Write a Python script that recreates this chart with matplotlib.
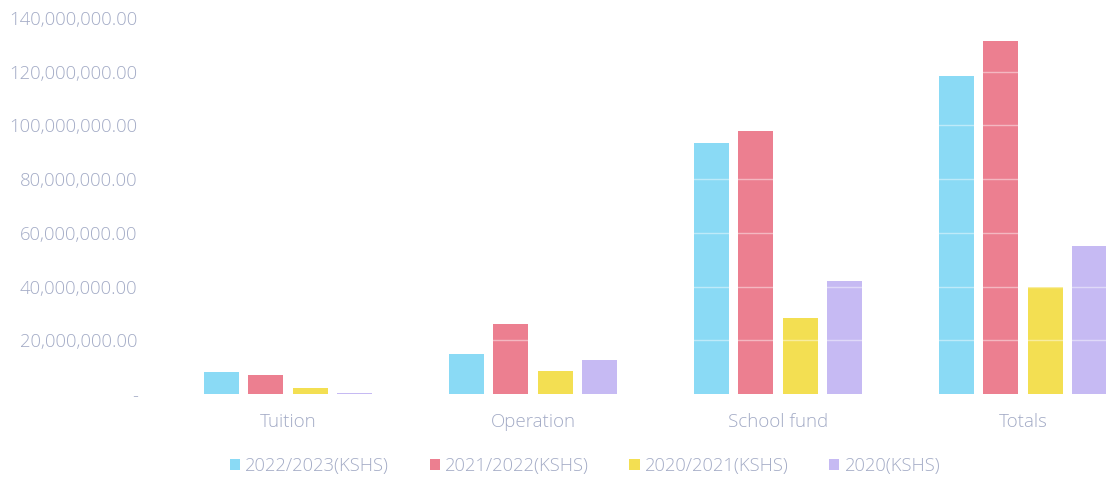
import matplotlib
matplotlib.use("Agg")
import matplotlib.pyplot as plt
import numpy as np
from matplotlib.ticker import FuncFormatter

categories = ["Tuition", "Operation", "School fund", "Totals"]
series_names = ["2022/2023(KSHS)", "2021/2022(KSHS)", "2020/2021(KSHS)", "2020(KSHS)"]
v_2022_2023 = [8.2e6, 14.9e6, 93.4e6, 118.4e6]
v_2021_2022 = [7.1e6, 26.0e6, 97.9e6, 131.4e6]
v_2020_2021 = [2.2e6, 8.6e6, 28.3e6, 39.8e6]
v_2020 = [0.5e6, 12.7e6, 42.0e6, 55.0e6]
yticks = [0, 20e6, 40e6, 60e6, 80e6, 100e6, 120e6, 140e6]

series = [v_2022_2023, v_2021_2022, v_2020_2021, v_2020]
colors = ["#8adaf5", "#ec7f90", "#f3df52", "#c6baf3"]

plt.rcParams['font.family'] = ['Open Sans', 'DejaVu Sans']

fig = plt.figure(figsize=(11.06, 4.78), dpi=100)
ax = fig.add_axes([0.1496, 0.1757, 0.886, 0.7866])

x = np.arange(len(categories))
step = 0.1816
width = 0.143
offsets = [-1.5, -0.5, 0.5, 1.5]
for s, name, c, o in zip(series, series_names, colors, offsets):
    ax.bar(x + o * step, s, width=width, color=c, label=name, zorder=2)

for t in yticks[1:]:
    ax.axhline(t, color="white", lw=1.0, alpha=0.45, zorder=3)

ax.set_xlim(-0.5, 3.5)
ax.set_ylim(0, 140e6)
ax.set_yticks(yticks)

def fmt(v, pos):
    if v == 0:
        return "-"
    return f"{v:,.2f}"

ax.yaxis.set_major_formatter(FuncFormatter(fmt))
ax.set_xticks(x)
ax.set_xticklabels(categories)
for sp in ax.spines.values():
    sp.set_visible(False)
txtcol = "#a3abc6"
ax.tick_params(axis='both', length=0, colors=txtcol)
ax.tick_params(axis='y', pad=20, labelsize=13.3)
ax.tick_params(axis='x', pad=14, labelsize=13.5)
for lab in ax.get_xticklabels() + ax.get_yticklabels():
    lab.set_fontweight('light')

leg = fig.legend(loc='center', bbox_to_anchor=(0.529, 0.025), ncol=4, frameon=False,
                 prop={'size': 13.2, 'weight': 'light'}, handlelength=0.55, handleheight=0.6,
                 handletextpad=0.3, columnspacing=2.2)
for t in leg.get_texts():
    t.set_color(txtcol)

fig.savefig("out.png", dpi=100)
